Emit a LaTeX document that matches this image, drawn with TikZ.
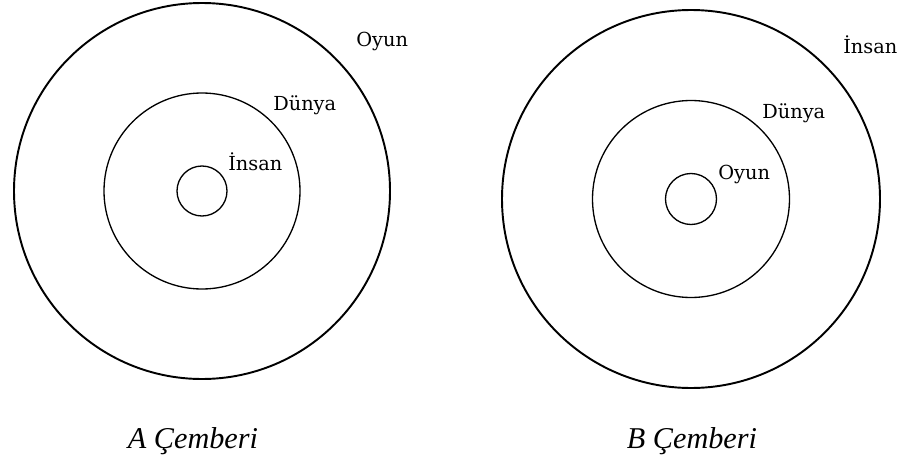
\documentclass[tikz,border=0pt]{standalone}
\usepackage{fontspec}
\setmainfont{Liberation Serif}
\newfontfamily\ringfont{DejaVu Serif}
\usetikzlibrary{positioning}

\begin{document}
\begin{tikzpicture}[
  x=0.02cm, y=-0.02cm,
  ring/.style ={draw, circle, inner sep=0pt, line width=0.75pt},
  outer/.style={ring, line width=1.1pt},
  tag/.style  ={font=\ringfont\fontsize{11}{13}\selectfont, inner sep=0pt, anchor=base west},
  caption/.style={font=\itshape\fontsize{17.2}{20}\selectfont, inner sep=0pt, anchor=base}
]
\useasboundingbox (0,0) rectangle (903,463);

% =================== A CEMBERI ===================
\node[outer, minimum size=376*0.02cm] (aout) at (202,191) {};
\node[ring,  minimum size=196*0.02cm] (amid) at (202,191) {};
\node[ring,  minimum size=50*0.02cm]  (ain)  at (202,191) {};

\node[tag] (aoyun)  at (356,46)  {Oyun};
\node[tag] (adunya) at (273,110) {Dünya};
\node[tag] (ainsan) at (228,170) {İnsan};

% =================== B CEMBERI ===================
\node[outer, minimum size=378*0.02cm] (bout) at (691,199) {};
\node[ring,  minimum size=197*0.02cm] (bmid) at (691,199) {};
\node[ring,  minimum size=51*0.02cm]  (bin)  at (691,199) {};

\node[tag] (binsan) at (843,53)  {İnsan};
\node[tag] (bdunya) at (762,118) {Dünya};
\node[tag] (boyun)  at (718,179) {Oyun};

% =================== CAPTIONS ===================
\node[caption] (acap) at (193,448) {A Çemberi};
\node[caption] (bcap) at (692,448) {B Çemberi};

\end{tikzpicture}
\end{document}
